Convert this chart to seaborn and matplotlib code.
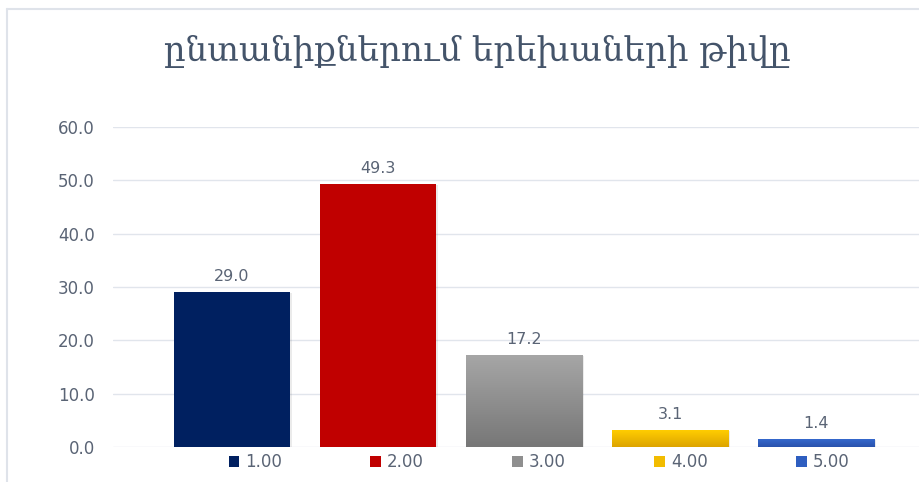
import matplotlib
matplotlib.use("Agg")
import matplotlib.pyplot as plt
import matplotlib.patches as mpatches
from matplotlib.colors import LinearSegmentedColormap
import numpy as np
import pandas as pd
import seaborn as sns

# ---- data ----
title = "ընտանիքներում երեխաների թիվը"
categories = ["1.00", "2.00", "3.00", "4.00", "5.00"]
values = [29.0, 49.3, 17.2, 3.1, 1.4]
colors = ["#002060", "#C00000", "#8F8F8F", "#F2BC00", "#2E5EC0"]
gradients = {2: ("#A6A6A6", "#777777"), 3: ("#FFCD00", "#DDA400"), 4: ("#3568CC", "#2952AC")}
yticks = [0, 10, 20, 30, 40, 50, 60]

sns.set_theme(style="white")
plt.rcParams["font.family"] = ["DejaVu Sans"]

W, H = 919, 482
fig = plt.figure(figsize=(W / 100, H / 100), dpi=100)
fig.patch.set_facecolor("white")
fig.patch.set_edgecolor("none")
fig.patch.set_linewidth(0)

left_px, right_px, top_px, bot_px = 113, 919, 127, 447
ax = fig.add_axes([left_px / W, (H - bot_px) / H, (right_px - left_px) / W, (bot_px - top_px) / H])

df = pd.DataFrame({"cat": categories, "val": values})
sns.barplot(data=df, x="cat", y="val", hue="cat", palette=colors, saturation=1,
            width=0.795, legend=False, ax=ax, zorder=3)

text_col = "#5A6475"
for i, p in enumerate(ax.patches):
    x, y0, w, h = p.get_x(), p.get_y(), p.get_width(), p.get_height()
    p.set_edgecolor("none")
    # subtle shadow
    sh = mpatches.Rectangle((x + 0.012, y0), w, h - 0.15, facecolor="#000000", alpha=0.08,
                            zorder=2, edgecolor="none")
    ax.add_patch(sh)
    if i in gradients:
        top_c, bot_c = gradients[i]
        cmap = LinearSegmentedColormap.from_list("g", [bot_c, top_c])
        grad = np.linspace(0, 1, 100).reshape(-1, 1)
        ax.imshow(grad, extent=[x, x + w, y0, y0 + h], origin="lower", aspect="auto",
                  cmap=cmap, zorder=4)
    ax.annotate(f"{values[i]:.1f}", (x + w / 2, y0 + h), xytext=(0, 6), textcoords="offset points",
                ha="center", va="bottom", fontsize=11.5, color=text_col)

ax.set_xlim(-0.815, 4.705)
ax.set_ylim(0, 60)
ax.set_yticks(yticks)
ax.set_yticklabels([f"{t:.1f}" for t in yticks], fontsize=12, color=text_col)
ax.set_xticks([])
ax.set_xlabel("")
ax.set_ylabel("")
ax.tick_params(axis="y", length=0, pad=13)
for s in ax.spines.values():
    s.set_visible(False)
ax.grid(axis="y", color="#E1E5EC", linewidth=1, zorder=0)
ax.set_axisbelow(True)
ax.set_facecolor("none")

# title
fig.text(477 / W, 1 - 51 / H, title, ha="center", va="center", fontsize=24.5,
         color="#44546A", family=["DejaVu Serif", "DejaVu Sans"])

# legend
handles = [mpatches.Patch(facecolor=c, edgecolor="none", label=l) for c, l in zip(colors, categories)]
fig.legend(handles=handles, loc="center", bbox_to_anchor=(539 / W, 1 - 462 / H), ncol=5,
           frameon=False, fontsize=12, labelcolor=text_col, handlelength=0.65, handleheight=0.65,
           handletextpad=0.35, columnspacing=5.3)

# chart border (left and top only visible)
fig.add_artist(plt.Line2D([6.5 / W, 6.5 / W], [0, 1 - 8.5 / H], transform=fig.transFigure,
                          color="#DFE3EA", linewidth=1.5))
fig.add_artist(plt.Line2D([6.5 / W, 1.01], [1 - 8.5 / H, 1 - 8.5 / H], transform=fig.transFigure,
                          color="#DFE3EA", linewidth=1.5))

fig.savefig("out.png", dpi=100, facecolor="white", edgecolor="none")
